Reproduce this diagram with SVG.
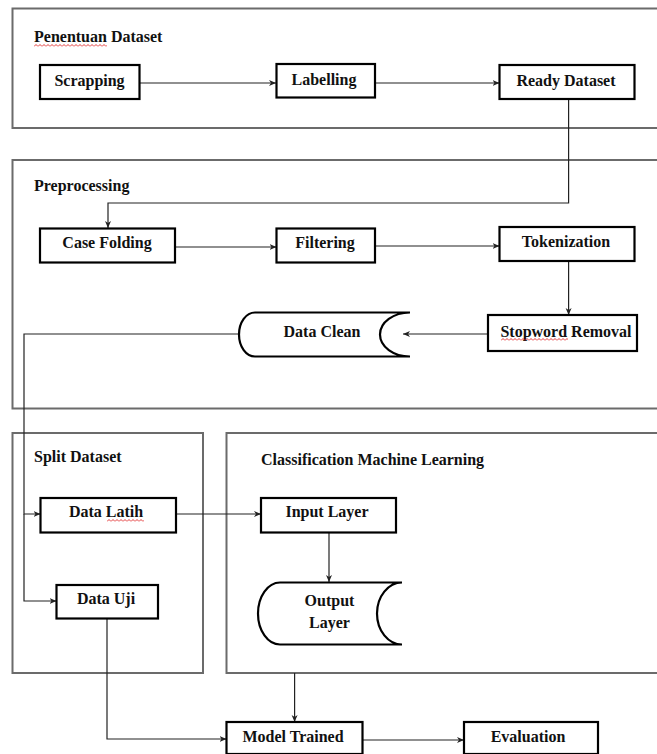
<svg xmlns="http://www.w3.org/2000/svg" width="657" height="754" viewBox="0 0 657 754">
<style>
.sec{fill:none;stroke:#6b6b6b;stroke-width:2}
.box{fill:#fff;stroke:#000;stroke-width:2.2}
.t{font-family:"Liberation Serif","Times New Roman",serif;font-weight:bold;font-size:16px;fill:#111}
.m{text-anchor:middle}
.c{fill:none;stroke:#222;stroke-width:1.2}
</style>
<defs>
<marker id="a" markerWidth="8" markerHeight="8" refX="7" refY="4" orient="auto" markerUnits="userSpaceOnUse"><path d="M0,1 L7,4 L0,7 L2,4 z" fill="#222"/></marker>
<pattern id="wv" width="4" height="3" patternUnits="userSpaceOnUse"><path d="M0,2.5 L2,0.5 L4,2.5" fill="none" stroke="#e02020" stroke-width="0.9"/></pattern>
</defs>
<rect width="657" height="754" fill="#fff"/>

<g id="sections">
<g id="sec-penentuan"><rect class="sec" x="12.5" y="8.5" width="660" height="119.5"/><text class="t" x="34" y="42">Penentuan Dataset</text></g>
<g id="sec-preprocessing"><rect class="sec" x="12.5" y="160" width="660" height="248.5"/><text class="t" x="34" y="191">Preprocessing</text></g>
<g id="sec-split"><rect class="sec" x="12.5" y="433" width="190.5" height="240"/><text class="t" x="34" y="462">Split Dataset</text></g>
<g id="sec-classification"><rect class="sec" x="226.5" y="433" width="450" height="240"/><text class="t" x="261" y="465">Classification Machine Learning</text></g>
</g>

<g id="connectors">
<path class="c" d="M139.5,83 H276" marker-end="url(#a)"/>
<path class="c" d="M375,83 H499.5" marker-end="url(#a)"/>
<path class="c" d="M568.6,99 V203 H108 V228" marker-end="url(#a)"/>
<path class="c" d="M175,247 H276.5" marker-end="url(#a)"/>
<path class="c" d="M375,246 H499.5" marker-end="url(#a)"/>
<path class="c" d="M568.6,261 V315" marker-end="url(#a)"/>
<path class="c" d="M488,334 H403" marker-end="url(#a)"/>
<path class="c" d="M239,334 H24 V514 H40.5" marker-end="url(#a)"/>
<path class="c" d="M24,514 V601 H56.5" marker-end="url(#a)"/>
<path class="c" d="M176,514 H261" marker-end="url(#a)"/>
<path class="c" d="M329,532 V582" marker-end="url(#a)"/>
<path class="c" d="M294.6,673 V722" marker-end="url(#a)"/>
<path class="c" d="M107,618 V739 H226.5" marker-end="url(#a)"/>
<path class="c" d="M362.5,740 H464" marker-end="url(#a)"/>
</g>

<g id="scrapping"><rect class="box" x="40" y="65" width="99.5" height="34"/><text class="t m" x="89.5" y="86">Scrapping</text></g>
<g id="labelling"><rect class="box" x="276.5" y="64" width="98.5" height="33.5"/><text class="t m" x="324" y="85">Labelling</text></g>
<g id="ready-dataset"><rect class="box" x="499.5" y="65" width="135" height="34"/><text class="t m" x="566" y="86">Ready Dataset</text></g>

<g id="case-folding"><rect class="box" x="40" y="228.5" width="135" height="34"/><text class="t m" x="107" y="248">Case Folding</text></g>
<g id="filtering"><rect class="box" x="276.5" y="228.5" width="98.5" height="34"/><text class="t m" x="325" y="248">Filtering</text></g>
<g id="tokenization"><rect class="box" x="499.5" y="227" width="135" height="34"/><text class="t m" x="566" y="247">Tokenization</text></g>
<g id="stopword-removal"><rect class="box" x="488" y="315" width="149" height="36"/><text class="t m" x="566" y="337">Stopword Removal</text><g transform="translate(501,338)"><rect width="67" height="3" fill="url(#wv)"/></g></g>
<g id="data-clean"><path class="box" d="M410,312.5 H255 A16,22 0 0 0 255,356.5 H410 A30,22 0 0 1 410,312.5 Z"/><text class="t m" x="322" y="337">Data Clean</text></g>

<g id="data-latih"><rect class="box" x="40.5" y="498" width="135.5" height="34.5"/><text class="t m" x="106" y="517">Data Latih</text><g transform="translate(107,519)"><rect width="37" height="3" fill="url(#wv)"/></g></g>
<g id="data-uji"><rect class="box" x="56.5" y="585" width="101.5" height="33.5"/><text class="t m" x="106" y="604">Data Uji</text></g>
<g id="input-layer"><rect class="box" x="261" y="498" width="135" height="34.5"/><text class="t m" x="327" y="517">Input Layer</text></g>
<g id="output-layer"><path class="box" d="M402,582.5 H280 A22,31 0 0 0 280,644.5 H402 A25,31 0 0 1 402,582.5 Z"/><text class="t m" x="329.5" y="606">Output</text><text class="t m" x="329.5" y="628">Layer</text></g>
<g id="model-trained"><rect class="box" x="226.5" y="722" width="136" height="32"/><text class="t m" x="293" y="742">Model Trained</text></g>
<g id="evaluation"><rect class="box" x="464" y="722" width="134" height="32"/><text class="t m" x="528" y="742">Evaluation</text></g>

<g id="penentuan-squiggle" transform="translate(34,44)"><rect width="73" height="3" fill="url(#wv)"/></g>
</svg>
